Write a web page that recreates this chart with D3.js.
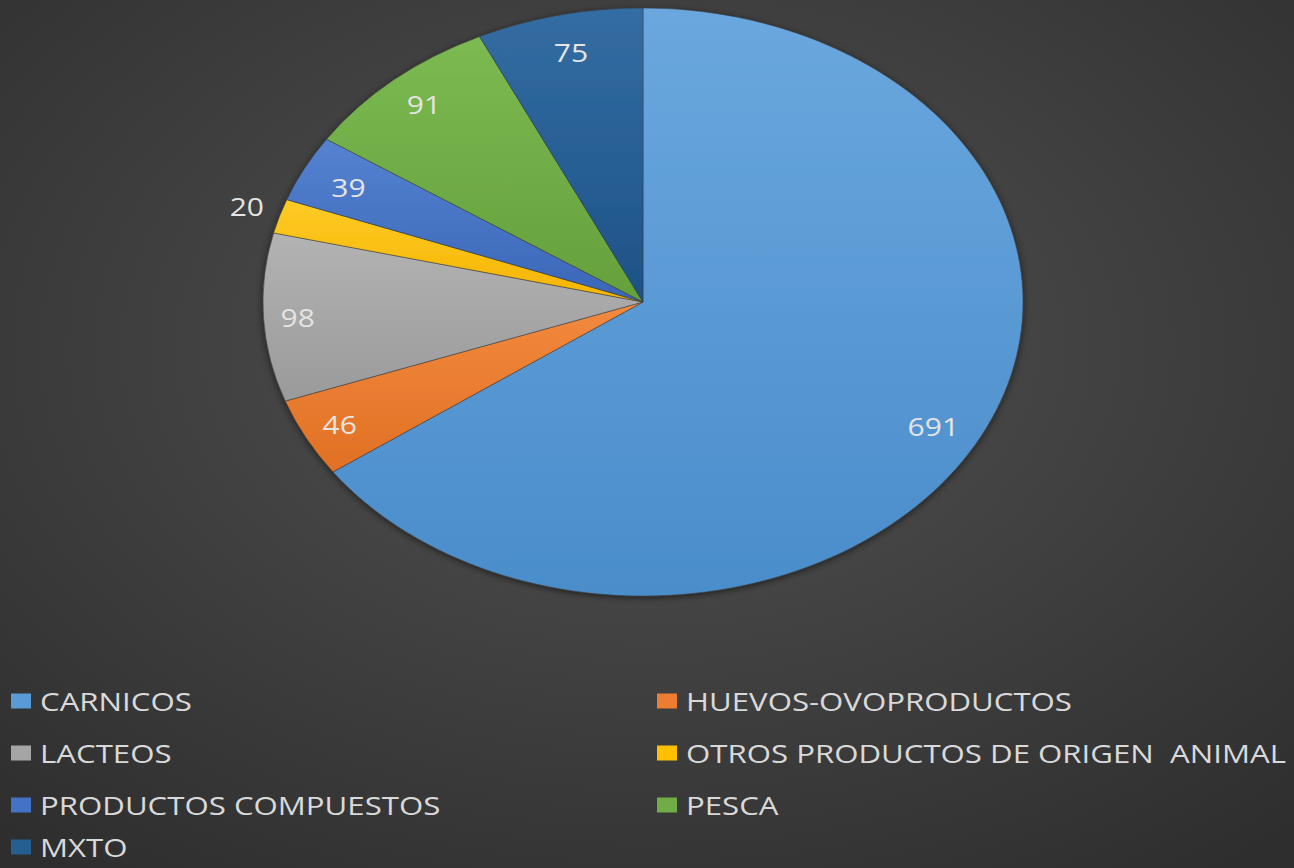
<!DOCTYPE html>
<html><head><meta charset="utf-8">
<script src="https://cdn.jsdelivr.net/npm/d3@7"></script>
<style>
html,body{margin:0;padding:0;background:#3a3a3a;}
svg{display:block;}
text{font-family:"Open Sans",sans-serif;}
</style></head>
<body>
<svg id="chart" width="1294" height="868"></svg>
<script>
const categories = ["CARNICOS","HUEVOS-OVOPRODUCTOS","LACTEOS","OTROS PRODUCTOS DE ORIGEN  ANIMAL","PRODUCTOS COMPUESTOS","PESCA","MXTO"];
const values = [691,46,98,20,39,91,75];
const colors = ["#5b9bd5","#ed7d31","#a5a5a5","#ffc000","#4472c4","#70ad47","#255e91"];
const lightColors = ["#6aa7de","#f38a3e","#b3b3b3","#ffcb26","#5582d1","#7cba52","#336da3"];
const darkColors = ["#4a8dcb","#e07024","#9a9a9a","#f4b400","#3a66b7","#64a03b","#1d5286"];

const W=1294,H=868;
const svg=d3.select("#chart");
const defs=svg.append("defs");
const bg=defs.append("radialGradient").attr("id","bg").attr("cx","50%").attr("cy","40%").attr("r","75%");
bg.append("stop").attr("offset","0%").attr("stop-color","#525252");
bg.append("stop").attr("offset","100%").attr("stop-color","#2e2e2e");
svg.append("rect").attr("width",W).attr("height",H).attr("fill","url(#bg)");

colors.forEach((c,i)=>{
  const g=defs.append("linearGradient").attr("id","g"+i).attr("x1","0").attr("y1","0").attr("x2","0").attr("y2","1");
  g.append("stop").attr("offset","0%").attr("stop-color",lightColors[i]);
  g.append("stop").attr("offset","100%").attr("stop-color",darkColors[i]);
});
const f=defs.append("filter").attr("id","sh").attr("x","-10%").attr("y","-10%").attr("width","120%").attr("height","120%");
f.append("feDropShadow").attr("dx",0).attr("dy",2).attr("stdDeviation",4).attr("flood-color","#000").attr("flood-opacity",0.55);

const cx=643, cy=302, rx=380, ry=294;
const pie=d3.pie().sort(null).value(d=>d)(values);
const arc=d3.arc().innerRadius(0).outerRadius(rx);
const gp=svg.append("g").attr("transform",`translate(${cx},${cy}) scale(1,${ry/rx})`).attr("filter","url(#sh)");
gp.selectAll("path").data(pie).join("path")
  .attr("d",arc)
  .attr("fill",(d,i)=>"url(#g"+i+")")
  .attr("stroke","#3c3c3c").attr("stroke-opacity",0.6).attr("stroke-width",1);

const labelFrac=[0.86,0.9,0.91,1.09,0.87,0.88,0.86];
const labelDy=[8,0,1,-2,1,-2,-3];
const sx=1.2;
svg.append("g").selectAll("text").data(pie).join("text")
  .attr("transform",(d,i)=>{const a=(d.startAngle+d.endAngle)/2;
     const x=cx+Math.sin(a)*rx*labelFrac[i], y=cy-Math.cos(a)*ry*labelFrac[i]+labelDy[i];
     return `translate(${x},${y}) scale(${sx},1)`;})
  .attr("text-anchor","middle").attr("dominant-baseline","central")
  .attr("font-size",25).attr("fill","#e4e4e4")
  .text(d=>d.data);

const legend=svg.append("g");
const rowsY=[701,753,805,847];
const colX=[11,657];
categories.forEach((c,i)=>{
  const col=i%2,row=Math.floor(i/2);
  const x=colX[col], y=rowsY[row];
  legend.append("rect").attr("x",x).attr("y",y-7.5).attr("width",20).attr("height",15).attr("fill",colors[i]);
  legend.append("text").attr("transform",`translate(${x+29},${y}) scale(${sx},1)`).attr("dominant-baseline","central")
    .attr("font-size",26).attr("fill","#d9d9d9").style("white-space","pre").text(c);
});
</script>
</body></html>
